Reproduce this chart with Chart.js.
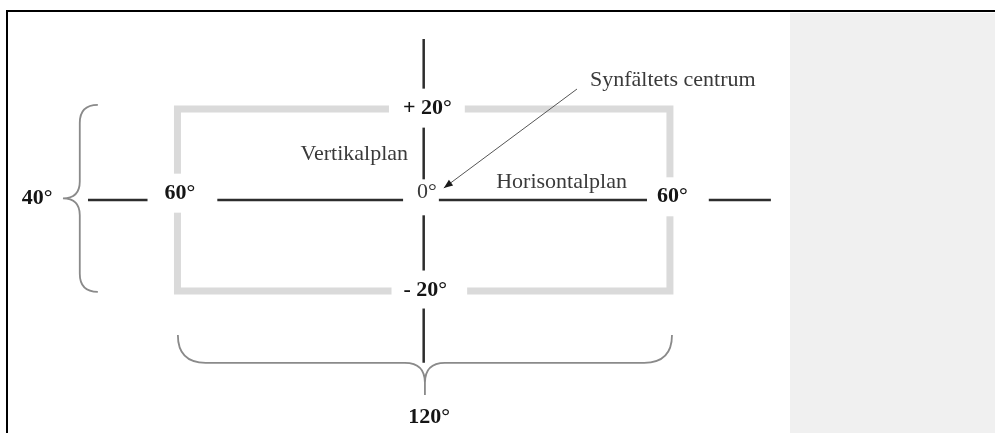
<!DOCTYPE html>
<html>
<head>
<meta charset="utf-8">
<script src="https://cdn.jsdelivr.net/npm/chart.js@4.4.0/dist/chart.umd.min.js"></script>
<style>
  html, body { margin: 0; padding: 0; background: #fff; }
  body { width: 995px; height: 433px; position: relative; overflow: hidden; }
  #frame { position: absolute; left: 6px; top: 10px; right: 0; bottom: 0; border-top: 2px solid #000; border-left: 2px solid #000; }
  #panel { position: absolute; left: 790px; top: 13px; right: 0; bottom: 0; background: #f0f0f0; }
  #chart { position: absolute; left: 0; top: 0; }
</style>
</head>
<body>
<div id="frame"></div>
<div id="panel"></div>
<canvas id="chart" width="995" height="433"></canvas>
<script>
// everything in degrees, 0/0 = synfältets centrum
const fieldX = [0, 60, 60, -60, -60, 0];
const fieldY = [20, 20, -20, -20, 20, 20];
const horizontalPlaneX = [-81.8, 84.6];
const verticalPlaneY = [35.4, -35.8];
const arrowX = [37.35, 4.9];
const arrowY = [24.4, 2.64];

const labelTexts = ['40°', '60°', '60°', '+ 20°', '- 20°', '0°', '120°', 'Vertikalplan', 'Horisontalplan', 'Synfältets centrum'];
const labelX = [-94.2, -59.4, 60.6, 0.9, 0.4, 0.8, 1.3, -16.9, 33.6, 60.7];
const labelY = [0.4, 1.5, 0.7, 20.2, -19.8, 1.8, -47.9, 10.1, 4.0, 26.4];
const labelBold = [true, true, true, true, true, false, true, false, false, false];

// braces: 40° (vertical) and 120° (horizontal)
const braceAlong = ['y', 'x'];
const braceFrom = [20.9, -59.9];
const braceTo = [-20.2, 60.5];
const braceTip = [-79.4, -29.7];
const braceSpine = [-83.8, -35.8];
const bracePoint = [-87.9, -42.9];

// white gaps cut around the labels that sit on lines [left, right, top, bottom] px
const gapPad = { 1: [17, 22, 12, 12], 2: [10, 21, 12, 12], 3: [14, 13, 12, 12], 4: [12, 20, 12, 11], 5: [14, 2, 5, 16] };

const fontFor = (i) => (labelBold[i] ? 'bold ' : '') + '22px "Liberation Serif", "Times New Roman", serif';

const diagramPlugin = {
  id: 'diagram',
  beforeDatasetDraw(chart, args) {
    if (chart.data.datasets[args.index].label !== 'pil') return;
    const { ctx } = chart;
    const { x, y } = chart.scales;
    ctx.save();
    ctx.fillStyle = '#fff';
    labelTexts.forEach((t, i) => {
      const pad = gapPad[i];
      if (!pad) return;
      ctx.font = fontFor(i);
      const w = ctx.measureText(t).width;
      const h = 15;
      const cx = x.getPixelForValue(labelX[i]);
      const cy = y.getPixelForValue(labelY[i]);
      ctx.fillRect(cx - w / 2 - pad[0], cy - h / 2 - pad[2], w + pad[0] + pad[1], h + pad[2] + pad[3]);
    });
    ctx.restore();
  },
  afterDatasetsDraw(chart) {
    const { ctx } = chart;
    const { x, y } = chart.scales;
    ctx.save();

    // braces
    ctx.strokeStyle = '#8a8a8a';
    ctx.lineWidth = 1.8;
    braceAlong.forEach((along, i) => {
      ctx.beginPath();
      if (along === 'x') {
        const a = x.getPixelForValue(braceFrom[i]);
        const c = x.getPixelForValue(braceTo[i]);
        const m = (a + c) / 2;
        const tip = y.getPixelForValue(braceTip[i]);
        const sp = y.getPixelForValue(braceSpine[i]);
        const pt = y.getPixelForValue(bracePoint[i]);
        const r = sp - tip;
        const r2 = Math.min(20, pt - sp);
        [[a, 1], [c, -1]].forEach(([e, d]) => {
          ctx.moveTo(e, tip);
          ctx.quadraticCurveTo(e, sp, e + d * r, sp);
          ctx.lineTo(m - d * r2, sp);
          ctx.quadraticCurveTo(m, sp, m, sp + r2);
          ctx.lineTo(m, pt);
        });
      } else {
        const a = y.getPixelForValue(braceFrom[i]);
        const c = y.getPixelForValue(braceTo[i]);
        const m = (a + c) / 2;
        const tip = x.getPixelForValue(braceTip[i]);
        const sp = x.getPixelForValue(braceSpine[i]);
        const pt = x.getPixelForValue(bracePoint[i]);
        const r = tip - sp;
        const r2 = Math.min(20, sp - pt);
        [[a, 1], [c, -1]].forEach(([e, d]) => {
          ctx.moveTo(tip, e);
          ctx.quadraticCurveTo(sp, e, sp, e + d * r);
          ctx.lineTo(sp, m - d * r2);
          ctx.quadraticCurveTo(sp, m, sp - r2, m);
          ctx.lineTo(pt, m);
        });
      }
      ctx.stroke();
    });

    // arrow head
    const x0 = x.getPixelForValue(arrowX[0]), y0 = y.getPixelForValue(arrowY[0]);
    const x1 = x.getPixelForValue(arrowX[1]), y1 = y.getPixelForValue(arrowY[1]);
    const ang = Math.atan2(y1 - y0, x1 - x0);
    ctx.fillStyle = '#1a1a1a';
    ctx.beginPath();
    ctx.moveTo(x1, y1);
    ctx.lineTo(x1 - 9 * Math.cos(ang) + 3.5 * Math.sin(ang), y1 - 9 * Math.sin(ang) - 3.5 * Math.cos(ang));
    ctx.lineTo(x1 - 9 * Math.cos(ang) - 3.5 * Math.sin(ang), y1 - 9 * Math.sin(ang) + 3.5 * Math.cos(ang));
    ctx.closePath();
    ctx.fill();

    // labels
    ctx.textAlign = 'center';
    ctx.textBaseline = 'middle';
    labelTexts.forEach((t, i) => {
      ctx.font = fontFor(i);
      ctx.fillStyle = labelBold[i] ? '#151515' : '#3a3a3a';
      ctx.fillText(t, x.getPixelForValue(labelX[i]), y.getPixelForValue(labelY[i]));
    });
    ctx.restore();
  }
};

const toPoints = (xs, ys) => xs.map((v, i) => ({ x: v, y: ys[i] }));

new Chart(document.getElementById('chart'), {
  type: 'scatter',
  data: {
    datasets: [
      {
        label: 'pil',
        data: toPoints(arrowX, arrowY),
        showLine: true,
        borderColor: '#555',
        borderWidth: 1,
        pointRadius: 0
      },
      {
        label: 'Horisontalplan',
        data: toPoints(horizontalPlaneX, [0, 0]),
        showLine: true,
        borderColor: '#2d2d2d',
        borderWidth: 2.5,
        pointRadius: 0
      },
      {
        label: 'Vertikalplan',
        data: toPoints([0, 0], verticalPlaneY),
        showLine: true,
        borderColor: '#2d2d2d',
        borderWidth: 2.5,
        pointRadius: 0
      },
      {
        label: 'Synfält',
        data: toPoints(fieldX, fieldY),
        showLine: true,
        borderColor: '#dadada',
        borderWidth: 7,
        borderJoinStyle: 'miter',
        pointRadius: 0
      }
    ]
  },
  options: {
    responsive: false,
    devicePixelRatio: 1,
    animation: false,
    layout: { padding: 0 },
    scales: {
      x: { type: 'linear', display: false, min: -103.24, max: 139.21 },
      y: { type: 'linear', display: false, min: -51.24, max: 43.98 }
    },
    plugins: {
      legend: { display: false },
      tooltip: { enabled: false }
    }
  },
  plugins: [diagramPlugin]
});
</script>
</body>
</html>
